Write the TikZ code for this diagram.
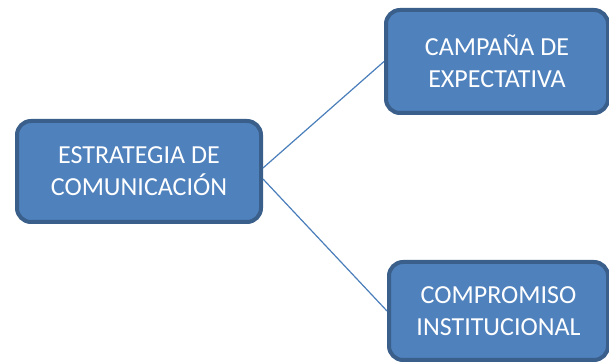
\documentclass[tikz,border=0pt]{standalone}
\usepackage{fontspec}
\setmainfont{Carlito}
\usetikzlibrary{calc}
\definecolor{boxfill}{HTML}{4F81BD}
\definecolor{boxline}{HTML}{3A5F8B}
\definecolor{conn}{HTML}{4A7EBB}
\begin{document}
\begin{tikzpicture}[x=1pt,y=1pt,
  mapbox/.style={draw=boxline, fill=boxfill, line width=4pt, rounded corners=14pt,
    text=white, align=center, inner sep=0pt,
    font=\fontsize{26}{32}\selectfont},
  conline/.style={draw=conn, line width=1.2pt}]
\useasboundingbox (0,0) rectangle (609,363);
\node[mapbox, minimum width=244pt, minimum height=101pt] (L) at (139,191.5) {ESTRATEGIA DE\\COMUNICACIÓN};
\node[mapbox, minimum width=222pt, minimum height=103pt] (T) at (497,301.5) {CAMPAÑA DE\\EXPECTATIVA};
\node[mapbox, minimum width=219pt, minimum height=98pt] (B) at (498.5,52) {COMPROMISO\\INSTITUCIONAL};
\draw[conline] ([yshift=3.5pt]L.east) -- (T.west);
\draw[conline] ([yshift=-7.5pt]L.east) -- (B.west);
\end{tikzpicture}
\end{document}
